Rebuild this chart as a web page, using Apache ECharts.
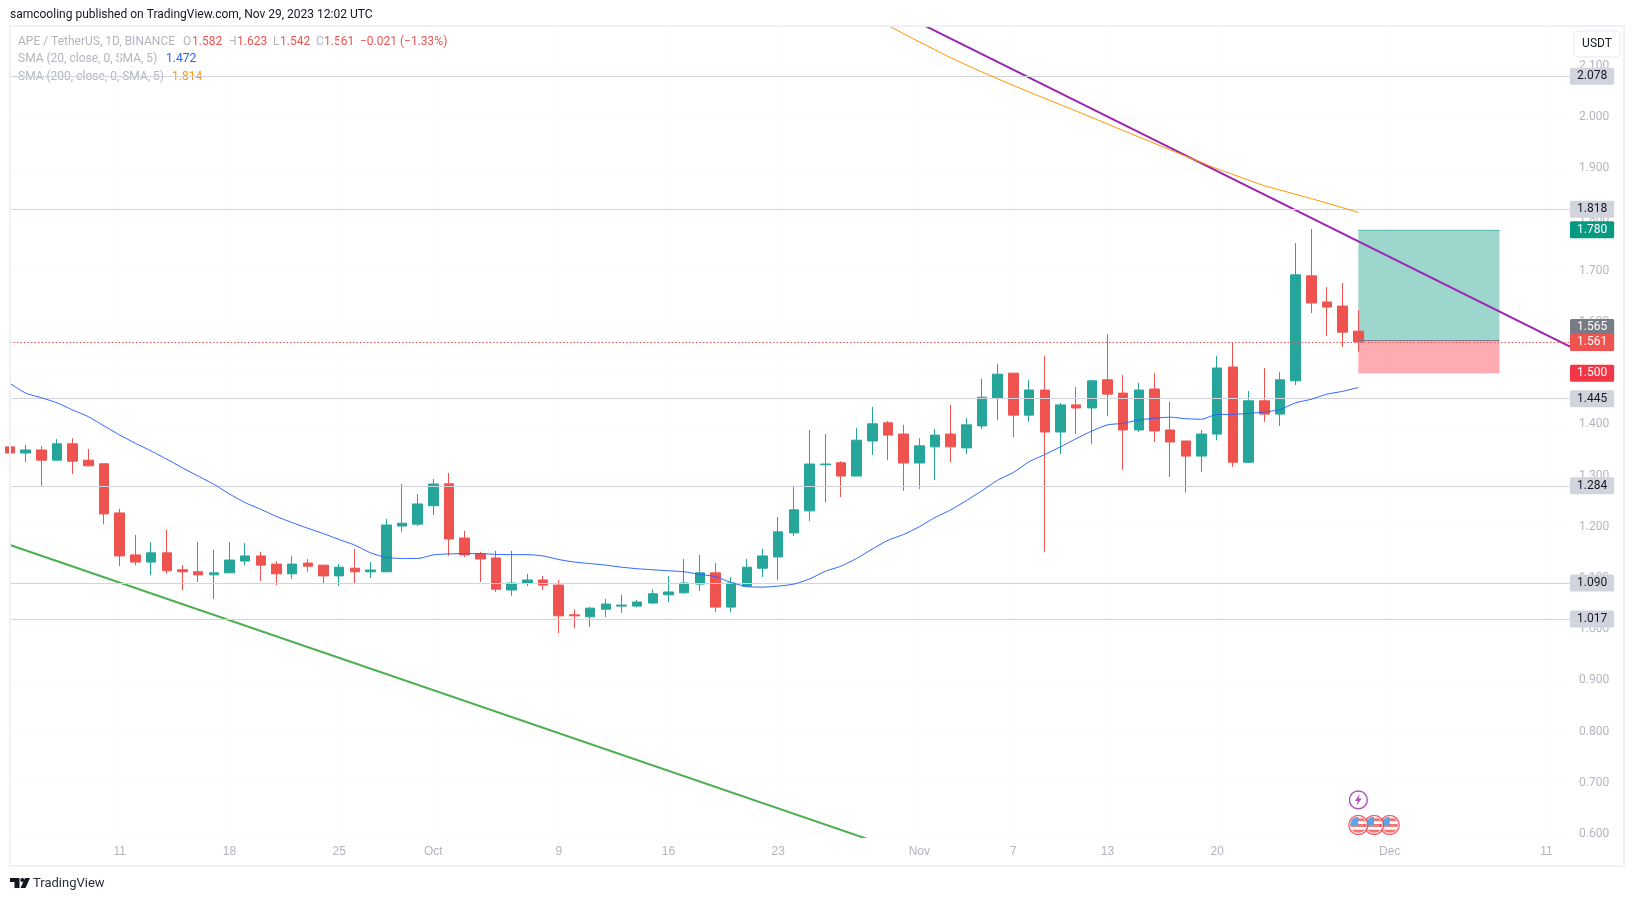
<!DOCTYPE html>
<html>
<head>
<meta charset="utf-8">
<title>APE / TetherUS 1D</title>
<style>html,body{margin:0;padding:0;background:#fff}#chart{width:1634px;height:901px}</style>
<script src="https://cdn.jsdelivr.net/npm/echarts@6/dist/echarts.min.js"></script>
</head>
<body>
<div id="chart"></div>
<script>
// Daily sessions, APE / TetherUS on Binance
const dates = [
 '2023-09-04','2023-09-05','2023-09-06','2023-09-07','2023-09-08','2023-09-09','2023-09-10','2023-09-11','2023-09-12','2023-09-13',
 '2023-09-14','2023-09-15','2023-09-16','2023-09-17','2023-09-18','2023-09-19','2023-09-20','2023-09-21','2023-09-22','2023-09-23',
 '2023-09-24','2023-09-25','2023-09-26','2023-09-27','2023-09-28','2023-09-29','2023-09-30',
 '2023-10-01','2023-10-02','2023-10-03','2023-10-04','2023-10-05','2023-10-06','2023-10-07','2023-10-08','2023-10-09','2023-10-10',
 '2023-10-11','2023-10-12','2023-10-13','2023-10-14','2023-10-15','2023-10-16','2023-10-17','2023-10-18','2023-10-19','2023-10-20',
 '2023-10-21','2023-10-22','2023-10-23','2023-10-24','2023-10-25','2023-10-26','2023-10-27','2023-10-28','2023-10-29','2023-10-30','2023-10-31',
 '2023-11-01','2023-11-02','2023-11-03','2023-11-04','2023-11-05','2023-11-06','2023-11-07','2023-11-08','2023-11-09','2023-11-10',
 '2023-11-11','2023-11-12','2023-11-13','2023-11-14','2023-11-15','2023-11-16','2023-11-17','2023-11-18','2023-11-19','2023-11-20',
 '2023-11-21','2023-11-22','2023-11-23','2023-11-24','2023-11-25','2023-11-26','2023-11-27','2023-11-28','2023-11-29'
];
const opens = [
 1.356,1.344,1.350,1.330,1.362,1.330,1.323,1.227,1.145,1.131,
 1.149,1.116,1.112,1.106,1.110,1.133,1.143,1.127,1.108,1.129,
 1.125,1.104,1.119,1.112,1.112,1.2015,1.205,
 1.241,1.284,1.178,1.147,1.139,1.0765,1.090,1.096,1.086,1.028,
 1.024,1.039,1.045,1.045,1.051,1.067,1.071,1.088,1.110,1.043,
 1.084,1.119,1.141,1.188,1.231,1.321,1.325,1.299,1.3675,1.403,1.381,
 1.3245,1.356,1.381,1.354,1.397,1.451,1.500,1.418,1.467,1.385,
 1.438,1.432,1.487,1.461,1.389,1.469,1.389,1.3675,1.338,1.381,
 1.512,1.326,1.446,1.420,1.485,1.690,1.639,1.631,1.582
];
const closes = [
 1.344,1.350,1.330,1.362,1.328,1.319,1.225,1.143,1.131,1.149,
 1.114,1.112,1.106,1.110,1.135,1.143,1.125,1.108,1.127,1.123,
 1.104,1.121,1.112,1.1155,1.2034,1.207,1.2445,
 1.2835,1.176,1.145,1.137,1.078,1.090,1.096,1.086,1.026,1.026,
 1.041,1.049,1.047,1.053,1.069,1.0726,1.090,1.110,1.043,1.090,
 1.121,1.143,1.190,1.233,1.3225,1.3225,1.299,1.369,1.401,1.379,1.3245,
 1.358,1.379,1.356,1.399,1.453,1.498,1.418,1.467,1.385,1.438,
 1.432,1.485,1.459,1.389,1.467,1.387,1.3655,1.338,1.381,1.510,
 1.326,1.446,1.420,1.487,1.692,1.637,1.629,1.580,1.561
];
const lows = [
 1.344,1.3265,1.280,1.330,1.303,1.319,1.205,1.123,1.125,1.106,
 1.108,1.0765,1.092,1.059,1.110,1.125,1.094,1.086,1.098,1.112,
 1.088,1.084,1.090,1.100,1.112,1.190,1.2015,
 1.223,1.143,1.141,1.092,1.0726,1.065,1.084,1.0765,0.9925,1.002,
 1.004,1.024,1.032,1.043,1.049,1.053,1.069,1.0745,1.0335,1.0335,
 1.082,1.102,1.096,1.182,1.211,1.248,1.258,1.299,1.340,1.330,1.270,
 1.274,1.291,1.326,1.342,1.391,1.4085,1.375,1.405,1.151,1.342,
 1.381,1.362,1.416,1.311,1.385,1.3655,1.297,1.2665,1.307,1.369,
 1.317,1.3245,1.405,1.397,1.477,1.6175,1.5725,1.551,1.542
];
const highs = [
 1.356,1.360,1.358,1.371,1.373,1.352,1.323,1.235,1.184,1.170,
 1.194,1.125,1.170,1.155,1.170,1.168,1.151,1.133,1.143,1.137,
 1.125,1.127,1.1565,1.131,1.215,1.2835,1.264,
 1.293,1.305,1.192,1.151,1.153,1.153,1.108,1.104,1.096,1.039,
 1.043,1.059,1.067,1.057,1.078,1.104,1.137,1.145,1.129,1.102,
 1.137,1.157,1.219,1.280,1.389,1.381,1.328,1.393,1.434,1.4065,1.399,
 1.373,1.391,1.438,1.412,1.489,1.518,1.500,1.487,1.5335,1.442,
 1.473,1.487,1.576,1.496,1.481,1.500,1.444,1.3675,1.389,1.5335,
 1.559,1.465,1.510,1.502,1.754,1.7815,1.668,1.676,1.623
];
const sma20 = [
 1.480,1.461,1.452,1.442,1.428,1.415,1.397,1.379,1.363,1.348,
 1.332,1.315,1.299,1.283,1.264,1.247,1.234,1.220,1.208,1.197,
 1.1865,1.175,1.164,1.149,1.140,1.138,1.138,
 1.145,1.147,1.1475,1.1475,1.146,1.1455,1.1455,1.143,1.136,1.131,
 1.128,1.125,1.121,1.118,1.116,1.114,1.112,1.107,1.1025,1.091,
 1.083,1.082,1.084,1.088,1.098,1.113,1.123,1.138,1.1565,1.1735,1.185,
 1.200,1.218,1.233,1.251,1.2705,1.291,1.306,1.327,1.341,1.356,
 1.372,1.387,1.399,1.402,1.4085,1.412,1.414,1.411,1.410,1.4195,
 1.4195,1.4215,1.424,1.429,1.442,1.449,1.459,1.4645,1.472
];
const sma200Dates = ['2023-10-28','2023-10-30','2023-11-01','2023-11-03','2023-11-05','2023-11-08','2023-11-11','2023-11-14','2023-11-17','2023-11-20','2023-11-23','2023-11-26','2023-11-29'];
const sma200 = [2.211,2.179,2.147,2.116,2.088,2.049,2.012,1.974,1.936,1.899,1.866,1.841,1.814];

// Drawn trend lines
const resistanceDates = ['2023-10-29','2023-12-13'];
const resistanceValues = [2.2296,1.5443];
const supportDates = ['2023-09-04','2023-11-01'];
const supportValues = [1.1643,0.5553];

// Horizontal levels with a tag on the price scale
const levelValues = [2.078,1.818,1.445,1.284,1.090,1.017];
const lastPrice = 1.561;

// Long position tool
const positionStart = '2023-11-29';
const positionEnd = '2023-12-08';
const targetPrice = 1.780;
const entryPrice = 1.565;
const stopPrice = 1.500;

// Scale labels
const priceTicks = [0.6,0.7,0.8,0.9,1.0,1.1,1.2,1.3,1.4,1.5,1.6,1.7,1.8,1.9,2.0,2.1];
const timeTicks = ['2023-09-11','2023-09-18','2023-09-25','2023-10-01','2023-10-09','2023-10-16','2023-10-23','2023-11-01','2023-11-07','2023-11-13','2023-11-20','2023-12-01','2023-12-11'];
const timeLabels = ['11','18','25','Oct','9','16','23','Nov','7','13','20','Dec','11'];

// Calendar markers along the bottom of the pane
const boltDates = ['2023-11-29'];
const flagDates = ['2023-12-01','2023-11-30','2023-11-29'];
const boltLevel = 0.6665;
const flagLevel = 0.6175;

const UP = '#26a69a', DOWN = '#ef5350', LEVEL = '#d1d4dc', MUTED = '#b2b5be', FRAME = '#f0f0f6';
const FONT = 'Roboto, sans-serif';
const TIME_FONT = '"Liberation Sans", Arial, sans-serif';

// The time scale runs on whole day numbers so sessions sit evenly spaced
function day(d) { return Date.parse(d + 'T00:00:00Z') / 86400000; }
const firstDay = day(dates[0]);
const timeTickDays = timeTicks.map(day);

function svgSymbol(svg) {
  return 'image://data:image/svg+xml;charset=utf-8,' + encodeURIComponent(svg);
}
const flagSvg = '<svg xmlns="http://www.w3.org/2000/svg" width="44" height="44" viewBox="0 0 22 22">' +
  '<defs><clipPath id="c"><circle cx="11" cy="11" r="8.6"/></clipPath></defs>' +
  '<circle cx="11" cy="11" r="10" fill="#fff" stroke="#f23645" stroke-width="1.4"/>' +
  '<g clip-path="url(#c)"><rect width="22" height="22" fill="#fff"/>' +
  '<rect y="4" width="22" height="3" fill="#ef5350"/><rect y="10" width="22" height="3" fill="#ef5350"/><rect y="16" width="22" height="3" fill="#ef5350"/>' +
  '<rect x="2" y="2" width="9" height="9" fill="#2f8fe8"/></g></svg>';
const boltSvg = '<svg xmlns="http://www.w3.org/2000/svg" width="44" height="44" viewBox="0 0 22 22">' +
  '<circle cx="11" cy="11" r="9.8" fill="#fff" stroke="#9c27b0" stroke-width="1.6"/>' +
  '<path d="M12.8 4.6 L7.2 12.2 L10.4 12.2 L8.8 17.4 L14.8 9.6 L11.4 9.6 Z" fill="#9c27b0"/></svg>';

function levelTag(value, bg, text, shift) {
  return {
    yAxis: value,
    label: {
      show: true, position: 'end', distance: 0, formatter: value.toFixed(3),
      backgroundColor: bg, color: text, fontFamily: FONT, fontSize: 12,
      padding: [0, 7], lineHeight: 17, borderRadius: 1.5,
      offset: [0, shift || 0]
    }
  };
}

function legendText(text, x, y, color) {
  return { type: 'text', x, y, style: { text, fill: color, font: '12px ' + FONT, textVerticalAlign: 'middle' } };
}

const chart = echarts.init(document.getElementById('chart'), null, { renderer: 'canvas' });
chart.setOption({
  animation: false,
  backgroundColor: '#fff',
  grid: { left: 10, top: 27, right: 64, bottom: 64 },
  xAxis: {
    type: 'value',
    min: firstDay,
    max: firstDay + 99.5,
    axisLine: { show: false },
    axisTick: { show: false, customValues: timeTickDays },
    splitLine: { show: true, lineStyle: { color: '#fbfbfd', width: 1 } },
    axisLabel: {
      customValues: timeTickDays,
      color: MUTED, fontFamily: TIME_FONT, fontSize: 12, margin: 9,
      hideOverlap: false,
      formatter: function (v) { return timeLabels[timeTickDays.indexOf(v)] || ''; }
    }
  },
  yAxis: {
    type: 'value',
    position: 'right',
    min: 0.594,
    max: 2.1761,
    axisLine: { show: false },
    axisTick: { show: false, customValues: priceTicks },
    splitLine: { show: true, lineStyle: { color: '#fbfbfd', width: 1 } },
    axisLabel: {
      customValues: priceTicks,
      color: MUTED, fontFamily: FONT, fontSize: 12, margin: 9,
      formatter: function (v) { return v.toFixed(3); }
    }
  },
  graphic: [
    { type: 'rect', shape: { x: 10, y: 26, width: 1614, height: 840 }, silent: true, z: 100,
      style: { fill: 'none', stroke: FRAME, lineWidth: 2 } },
    { type: 'rect', shape: { x: 1574, y: 31, width: 46, height: 26, r: 4 }, z: 101,
      style: { fill: '#fff', stroke: FRAME, lineWidth: 1.5 } },
    { type: 'text', x: 1597, y: 44, z: 102,
      style: { text: 'USDT', fill: '#131722', font: '12px ' + FONT, textAlign: 'center', textVerticalAlign: 'middle' } },
    { type: 'text', x: 10, y: 15, z: 102,
      style: { text: 'samcooling published on TradingView.com, Nov 29, 2023 12:02 UTC', fill: '#131722', font: '12px ' + FONT, textVerticalAlign: 'middle' } },
    { type: 'group', z: 102, children: [
      legendText('APE / TetherUS, 1D, BINANCE', 18, 41.5, MUTED),
      legendText('O', 183, 41.5, MUTED), legendText('1.582', 192, 41.5, DOWN),
      legendText('H', 228, 41.5, MUTED), legendText('1.623', 237, 41.5, DOWN),
      legendText('L', 273, 41.5, MUTED), legendText('1.542', 280, 41.5, DOWN),
      legendText('C', 316, 41.5, MUTED), legendText('1.561', 324, 41.5, DOWN),
      legendText('\u22120.021 (\u22121.33%)', 360, 41.5, DOWN),
      legendText('SMA (20, close, 0, SMA, 5)', 18, 59, MUTED), legendText('1.472', 166, 59, '#2962ff'),
      legendText('SMA (200, close, 0, SMA, 5)', 18, 76.5, MUTED), legendText('1.814', 172, 76.5, '#ff9800')
    ] },
    // TradingView wordmark
    { type: 'polygon', z: 102, shape: { points: [[10, 878], [19.5, 878], [19.5, 888], [14.5, 888], [14.5, 882], [10, 882]] }, style: { fill: '#131722' } },
    { type: 'circle', z: 102, shape: { cx: 22.3, cy: 880, r: 2 }, style: { fill: '#131722' } },
    { type: 'polygon', z: 102, shape: { points: [[25, 878], [30, 878], [25.5, 888], [20.5, 888]] }, style: { fill: '#131722' } },
    { type: 'text', x: 33, y: 883.5, z: 102,
      style: { text: 'TradingView', fill: '#2a2e39', font: '13px ' + FONT, textVerticalAlign: 'middle' } }
  ],
  series: [
    {
      name: 'Resistance', type: 'line', z: 2, symbol: 'none', silent: true,
      lineStyle: { color: '#9c27b0', width: 2 },
      data: resistanceDates.map((d, i) => [day(d), resistanceValues[i]])
    },
    {
      name: 'Support', type: 'line', z: 2, symbol: 'none', silent: true,
      lineStyle: { color: '#4caf50', width: 2 },
      data: supportDates.map((d, i) => [day(d), supportValues[i]])
    },
    {
      name: 'Levels', type: 'line', z: 1, symbol: 'none', data: [],
      markLine: {
        silent: true, symbol: 'none', animation: false,
        lineStyle: { color: LEVEL, width: 1, type: 'solid' },
        data: levelValues.map(v => levelTag(v, LEVEL, '#131722'))
      }
    },
    {
      name: 'Position', type: 'line', z: 3, symbol: 'none', data: [],
      markArea: {
        silent: true,
        data: [
          [{ xAxis: day(positionStart), yAxis: targetPrice, itemStyle: { color: 'rgba(8,153,129,0.4)' } }, { xAxis: day(positionEnd), yAxis: entryPrice }],
          [{ xAxis: day(positionStart), yAxis: entryPrice, itemStyle: { color: 'rgba(255,45,62,0.4)' } }, { xAxis: day(positionEnd), yAxis: stopPrice }]
        ]
      },
      markLine: {
        silent: true, symbol: 'none', animation: false, label: { show: false },
        data: [
          [{ xAxis: day(positionStart), yAxis: targetPrice, lineStyle: { color: '#5cbcab', width: 1, type: 'solid' } }, { xAxis: day(positionEnd), yAxis: targetPrice }],
          [{ xAxis: day(positionStart), yAxis: entryPrice, lineStyle: { color: '#787b86', width: 1, type: 'solid' } }, { xAxis: day(positionEnd), yAxis: entryPrice }]
        ]
      }
    },
    {
      name: 'APE / TetherUS', type: 'candlestick', z: 4, barWidth: 10, silent: true,
      encode: { x: 0, y: [1, 2, 3, 4] },
      itemStyle: { color: UP, color0: DOWN, borderColor: UP, borderColor0: DOWN, borderWidth: 1 },
      data: dates.map((d, i) => [day(d), opens[i], closes[i], lows[i], highs[i]])
    },
    {
      name: 'SMA 20', type: 'line', z: 5, symbol: 'none', silent: true,
      lineStyle: { color: '#2962ff', width: 1 }, smooth: 0.2,
      data: dates.map((d, i) => [day(d), sma20[i]])
    },
    {
      name: 'SMA 200', type: 'line', z: 5, symbol: 'none', silent: true,
      lineStyle: { color: '#ff9800', width: 1 },
      data: sma200Dates.map((d, i) => [day(d), sma200[i]])
    },
    {
      name: 'Price tags', type: 'line', z: 6, symbol: 'none', data: [],
      markLine: {
        silent: true, symbol: 'none', animation: false,
        lineStyle: { color: 'rgba(0,0,0,0)', width: 1, type: 'solid' },
        data: [
          levelTag(targetPrice, '#089981', '#fff'),
          levelTag(entryPrice, '#787b86', '#fff', -15),
          Object.assign(levelTag(lastPrice, DOWN, '#fff'), { lineStyle: { color: DOWN, width: 1, type: [1.5, 2] } }),
          levelTag(stopPrice, '#f23645', '#fff')
        ]
      }
    },
    {
      name: 'Bolt', type: 'scatter', z: 7, silent: true, symbol: svgSymbol(boltSvg), symbolSize: 20,
      data: boltDates.map(d => [day(d), boltLevel])
    },
    {
      name: 'Flags', type: 'scatter', z: 7, silent: true, symbol: svgSymbol(flagSvg), symbolSize: 21,
      data: flagDates.map(d => [day(d), flagLevel])
    }
  ]
});
</script>
</body>
</html>
